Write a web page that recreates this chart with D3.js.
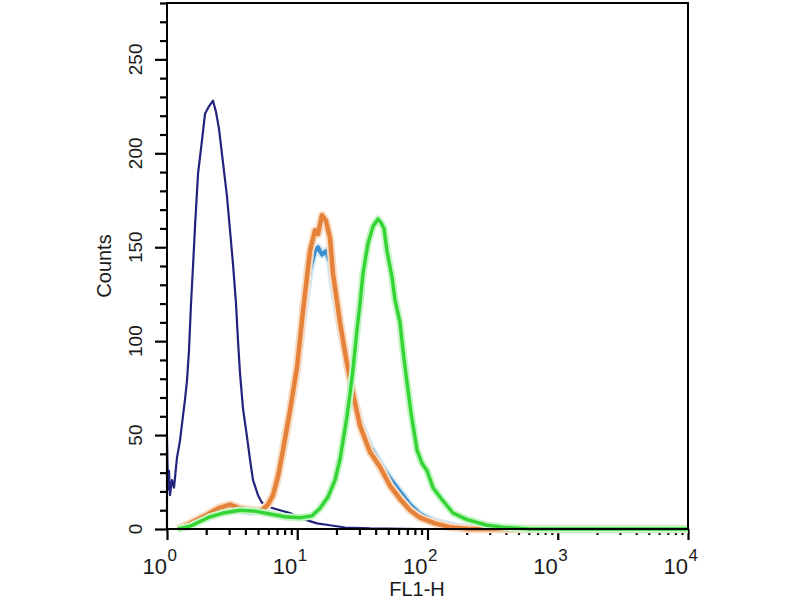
<!DOCTYPE html>
<html>
<head>
<meta charset="utf-8">
<script src="https://cdn.jsdelivr.net/npm/d3@7"></script>
<style>
  body { margin: 0; background: #fff; }
  svg { display: block; font-family: "Liberation Sans", Arial, Helvetica, sans-serif; }
</style>
</head>
<body>
<svg id="histo" width="800" height="600"></svg>
<script>
// FL1-H channel positions and counts, one pair of arrays per histogram
const navyFL1 = [1, 1, 1.018, 1.036, 1.054, 1.092, 1.132, 1.193, 1.258, 1.304, 1.375, 1.424, 1.475, 1.529, 1.584, 1.641, 1.73, 1.857, 1.958, 2.101, 2.255, 2.378, 2.508, 2.691, 2.888, 3.046, 3.212, 3.387, 3.509, 3.635, 3.833, 4.114, 4.338, 4.575, 4.996, 5.362, 5.858, 7.372, 8.799, 11.47, 14.18, 17.84, 23.26, 36.19, 87.6, 10000];
const navyCounts = [0, 49, 21, 31, 18, 26, 22, 38, 47, 56, 69, 79, 95, 120, 140, 161, 189, 207, 221, 225, 228, 222, 213, 195, 177, 159, 141, 120, 100, 83, 64, 49, 37, 26, 18, 14, 12, 10, 8.5, 5, 3, 2, 0.8, 0.3, 0, 0];

const blueFL1 = [1.215, 1.502, 1.958, 2.464, 3.046, 3.635, 4.495, 5.362, 5.962, 6.514, 7.116, 7.775, 8.799, 9.956, 11.07, 12.53, 13.69, 14.43, 15.49, 16.62, 17.84, 18.81, 21.29, 24.09, 26.8, 30.33, 36.19, 43.19, 51.54, 61.5, 73.38, 87.6, 114.2, 162.6, 253, 10000];
const blueCounts = [0, 3, 6, 9, 10, 10, 9, 10, 13, 18, 28, 41, 62, 84, 112, 138, 148, 150, 146, 148, 142, 130, 108, 88, 72, 57, 44, 35, 27, 20, 13, 8, 4, 1.5, 0, 0];

const orangeFL1 = [1.215, 1.502, 1.958, 2.464, 3.046, 3.635, 4.495, 5.362, 5.962, 6.514, 7.116, 7.775, 8.799, 9.956, 11.07, 12.53, 13.69, 14.43, 15.49, 16.62, 17.84, 18.81, 21.29, 24.09, 26.8, 30.33, 36.19, 43.19, 51.54, 61.5, 73.38, 87.6, 114.2, 148.8, 212, 10000];
const orangeCounts = [0, 3, 7, 11, 13, 11, 10, 10, 13, 18, 28, 42, 63, 86, 116, 148, 159, 157, 167, 164, 155, 136, 110, 88, 72, 55, 41, 33, 23, 16, 10, 6, 3, 1, 0, 0];

const greenFL1 = [1.215, 1.502, 1.792, 2.139, 2.691, 3.635, 4.74, 6.177, 8.054, 10.5, 12.98, 14.95, 17.22, 19.49, 21.29, 22.85, 24.09, 25.41, 26.8, 28.75, 30.33, 31.97, 34.93, 38.15, 41.69, 43.96, 46.35, 48.87, 53.39, 56.3, 61.5, 64.86, 69.6, 74.7, 83.06, 90.74, 99.12, 110.2, 124.7, 157, 201, 286.3, 379.8, 612.3, 10000];
const greenCounts = [0, 1.5, 4, 6.5, 8.5, 10, 9.5, 8, 6.5, 6, 7, 11, 17, 26, 37, 50, 60, 72, 85, 106, 120, 136, 152, 161, 165, 163, 160, 148, 134, 122, 110, 95, 78, 62, 42, 35, 31, 22, 17, 8.5, 5, 2, 1, 0, 0];

const yMajorTicks = [0, 50, 100, 150, 200, 250];
const xDecades = [1, 10, 100, 1000, 10000];

const svg = d3.select("#histo");
const plot = { left: 167, right: 688, top: 3, bottom: 529 };

const x = d3.scaleLog().domain([1, 10000]).range([plot.left, plot.right]);
const y = d3.scaleLinear().domain([0, 280]).range([plot.bottom, plot.top]);

// minor ticks: every 10 counts, and 2..9 inside each decade
const yMinor = d3.range(0, 281, 10).filter(v => v % 50 !== 0);
const xMinor = [];
xDecades.slice(0, -1).forEach(d => { for (let k = 2; k <= 9; k++) xMinor.push(d * k); });

function tickStyle(g) {
  g.select(".domain").remove();
  g.selectAll("line").attr("stroke", "#000").attr("stroke-width", 2.2);
}

svg.append("g")
  .attr("transform", `translate(${plot.left},0)`)
  .call(d3.axisLeft(y).tickValues(yMinor).tickSize(7).tickFormat(""))
  .call(tickStyle);
svg.append("g")
  .attr("transform", `translate(${plot.left},0)`)
  .call(d3.axisLeft(y).tickValues(yMajorTicks).tickSize(12).tickFormat(""))
  .call(tickStyle);

svg.append("g")
  .attr("transform", `translate(0,${plot.bottom})`)
  .call(d3.axisBottom(x).tickValues(xMinor).tickSize(6).tickFormat(""))
  .call(tickStyle);
svg.append("g")
  .attr("transform", `translate(0,${plot.bottom})`)
  .call(d3.axisBottom(x).tickValues(xDecades).tickSize(11).tickFormat(""))
  .call(tickStyle);

// y tick labels, rotated
svg.append("g").selectAll("text")
  .data(yMajorTicks)
  .enter().append("text")
  .attr("transform", d => `translate(142,${y(d)}) rotate(-90)`)
  .attr("text-anchor", "middle")
  .attr("font-size", "19px")
  .attr("fill", "#1a1a1a")
  .text(d => d);

// x tick labels 10^n
const xl = svg.append("g").selectAll("g")
  .data(xDecades)
  .enter().append("g");
xl.append("text")
  .attr("x", d => x(d))
  .attr("y", 574)
  .attr("text-anchor", "end")
  .attr("font-size", "22px")
  .attr("fill", "#1a1a1a")
  .text("10");
xl.append("text")
  .attr("x", d => x(d) + 0.5)
  .attr("y", 561)
  .attr("font-size", "17px")
  .attr("fill", "#1a1a1a")
  .text(d => Math.round(Math.log10(d)));

svg.append("text")
  .attr("x", 417)
  .attr("y", 596)
  .attr("text-anchor", "middle")
  .attr("font-size", "20px")
  .attr("fill", "#1a1a1a")
  .text("FL1-H");

svg.append("text")
  .attr("transform", `translate(111,266) rotate(-90)`)
  .attr("text-anchor", "middle")
  .attr("font-size", "20px")
  .attr("fill", "#1a1a1a")
  .text("Counts");

const line = d3.line()
  .x(d => x(d[0]))
  .y(d => y(d[1]));

const series = [
  { fl: navyFL1, c: navyCounts, color: "#23237e", w: 2.2, halo: null },
  { fl: blueFL1, c: blueCounts, color: "#3a8fcf", w: 4, halo: "#d6ebf8" },
  { fl: orangeFL1, c: orangeCounts, color: "#e2772a", w: 4.5, halo: "#f8dcc4", op: 0.9 },
  { fl: greenFL1, c: greenCounts, color: "#33d433", w: 3.4, halo: "#c4f5c4" }
];

const lines = svg.append("g");
series.forEach(s => {
  const pts = s.fl.map((v, i) => [v, s.c[i]]);
  if (s.halo) {
    lines.append("path")
      .attr("d", line(pts))
      .attr("fill", "none")
      .attr("stroke", s.halo)
      .attr("stroke-width", s.w + 4)
      .attr("stroke-linejoin", "round");
  }
  lines.append("path")
    .attr("d", line(pts))
    .attr("fill", "none")
    .attr("stroke", s.color)
    .attr("stroke-opacity", s.op || 1)
    .attr("stroke-width", s.w)
    .attr("stroke-linejoin", "round");
});

// frame
svg.append("rect")
  .attr("x", plot.left)
  .attr("y", plot.top)
  .attr("width", plot.right - plot.left)
  .attr("height", plot.bottom - plot.top)
  .attr("fill", "none")
  .attr("stroke", "#000")
  .attr("stroke-width", 2);
</script>
</body>
</html>
